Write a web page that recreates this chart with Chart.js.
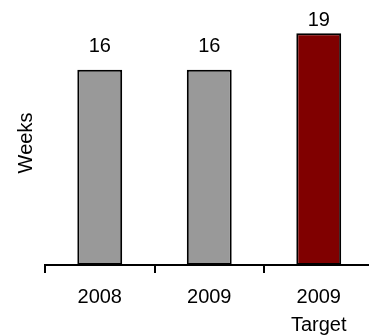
<!DOCTYPE html>
<html>
<head>
<meta charset="utf-8">
<script src="https://cdn.jsdelivr.net/npm/chart.js@4/dist/chart.umd.min.js"></script>
<style>
  html, body { margin: 0; padding: 0; background: #fff; overflow: hidden; }
  #wrap { width: 369px; height: 336px; overflow: hidden; position: relative; }
  canvas { display: block; }
</style>
</head>
<body>
<div id="wrap"><canvas id="c" width="380" height="349"></canvas></div>
<script>
const categories = [["2008"], ["2009"], ["2009", "Target"]];
const weeks = [16, 16, 19];
const barColors = ["#999999", "#999999", "#800000"];
const yTicks = { min: 0, max: 20 };

const FONT = "'Liberation Sans', Arial, Helvetica, sans-serif";

// Value labels above each bar, kept inside the canvas near the top edge
const valueLabels = {
  id: "valueLabels",
  afterDatasetsDraw(chart) {
    const ctx = chart.ctx;
    const meta = chart.getDatasetMeta(0);
    ctx.save();
    ctx.font = "20px " + FONT;
    ctx.fillStyle = "#000";
    ctx.textAlign = "center";
    ctx.textBaseline = "middle";
    meta.data.forEach((bar, i) => {
      const y = Math.max(bar.y - 23, 20);
      ctx.fillText(String(chart.data.datasets[0].data[i]), bar.x, y);
    });
    ctx.restore();
  }
};

new Chart(document.getElementById("c"), {
  type: "bar",
  data: {
    labels: categories,
    datasets: [{
      data: weeks,
      backgroundColor: barColors,
      borderColor: "#000",
      borderWidth: 2,
      borderSkipped: false,
      barPercentage: 0.41,
      categoryPercentage: 1.0
    }]
  },
  options: {
    responsive: false,
    animation: false,
    devicePixelRatio: 1,
    layout: { padding: { top: 21, right: 6.5, bottom: 0, left: 0 } },
    plugins: { legend: { display: false }, tooltip: { enabled: false } },
    scales: {
      x: {
        grid: {
          offset: true,
          drawOnChartArea: false,
          drawTicks: true,
          tickLength: 8,
          color: "#000",
          lineWidth: 2
        },
        border: { display: true, color: "#000", width: 2 },
        ticks: {
          color: "#000",
          font: { family: FONT, size: 20, lineHeight: 1.4 },
          padding: 10,
          maxRotation: 0
        }
      },
      y: {
        min: yTicks.min,
        max: yTicks.max,
        grid: { display: false, drawTicks: false },
        border: { display: false },
        ticks: { display: false },
        title: {
          display: true,
          text: "Weeks",
          color: "#000",
          font: { family: FONT, size: 20, lineHeight: 1.2 },
          padding: { top: 14, bottom: 7 }
        }
      }
    }
  },
  plugins: [valueLabels]
});
</script>
</body>
</html>
